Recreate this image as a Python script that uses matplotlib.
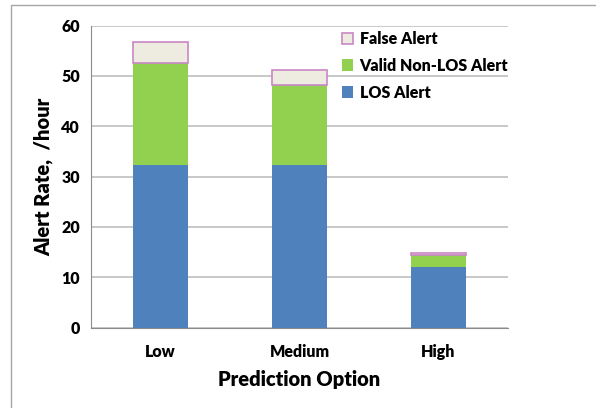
import matplotlib
matplotlib.use("Agg")
import matplotlib.pyplot as plt
import numpy as np
from matplotlib.patches import Rectangle

# values
options = ["Low", "Medium", "High"]
los_alert = [32.3, 32.3, 12.0]
valid_non_los = [20.3, 15.9, 2.4]
false_alert = [4.2, 3.0, 0.5]
y_ticks = [0, 10, 20, 30, 40, 50, 60]

plt.rcParams["font.family"] = ["Lato", "DejaVu Sans"]
plt.rcParams["font.weight"] = "heavy"

fig = plt.figure(figsize=(5.96, 4.08), dpi=100)
ax = fig.add_axes([0.1527, 0.197, 0.6997, 0.7405])

# light border around the chart
fig.patches.append(Rectangle((0.019, -0.01), 1.0, 0.998, transform=fig.transFigure,
                             fill=False, edgecolor="#a6a6a6", linewidth=1.0))

x = np.arange(len(options))
w = 0.4
los = np.array(los_alert)
valid = np.array(valid_non_los)
false = np.array(false_alert)

b1 = ax.bar(x, los, w, color="#4F81BD", label="LOS Alert", zorder=3)
b2 = ax.bar(x, valid, w, bottom=los, color="#92D050", label="Valid Non-LOS Alert", zorder=3)
b3 = ax.bar(x, false, w, bottom=los + valid, color="#EEECE1", edgecolor="#C986C6",
            linewidth=1.2, label="False Alert", zorder=3)

ax.set_xlim(-0.5, 2.5)
ax.set_ylim(0, 60)
ax.set_yticks(y_ticks)
ax.set_xticks(x)
ax.set_xticklabels(options)
ax.tick_params(axis="both", length=0, labelsize=11.5)
ax.tick_params(axis="x", pad=12)
ax.tick_params(axis="y", pad=8)
ax.yaxis.grid(True, color="#bfbfbf", linewidth=1.2, zorder=0)
ax.set_axisbelow(True)
for s in ["top", "right"]:
    ax.spines[s].set_visible(False)
for s in ["left", "bottom"]:
    ax.spines[s].set_color("#8c8c8c")

ax.set_xlabel("Prediction Option", fontsize=14.5, fontweight="heavy", labelpad=7)
ax.set_ylabel("Alert Rate,  /hour", fontsize=14.5, fontweight="heavy", labelpad=6)

ax.legend([b3, b2, b1], ["False Alert", "Valid Non-LOS Alert", "LOS Alert"],
          loc="upper right", bbox_to_anchor=(1.035, 1.03), frameon=False,
          prop={"size": 11.5, "weight": "heavy"}, handlelength=0.7, handleheight=0.7,
          handletextpad=0.4, labelspacing=0.68)

fig.savefig("out.png", dpi=100)
